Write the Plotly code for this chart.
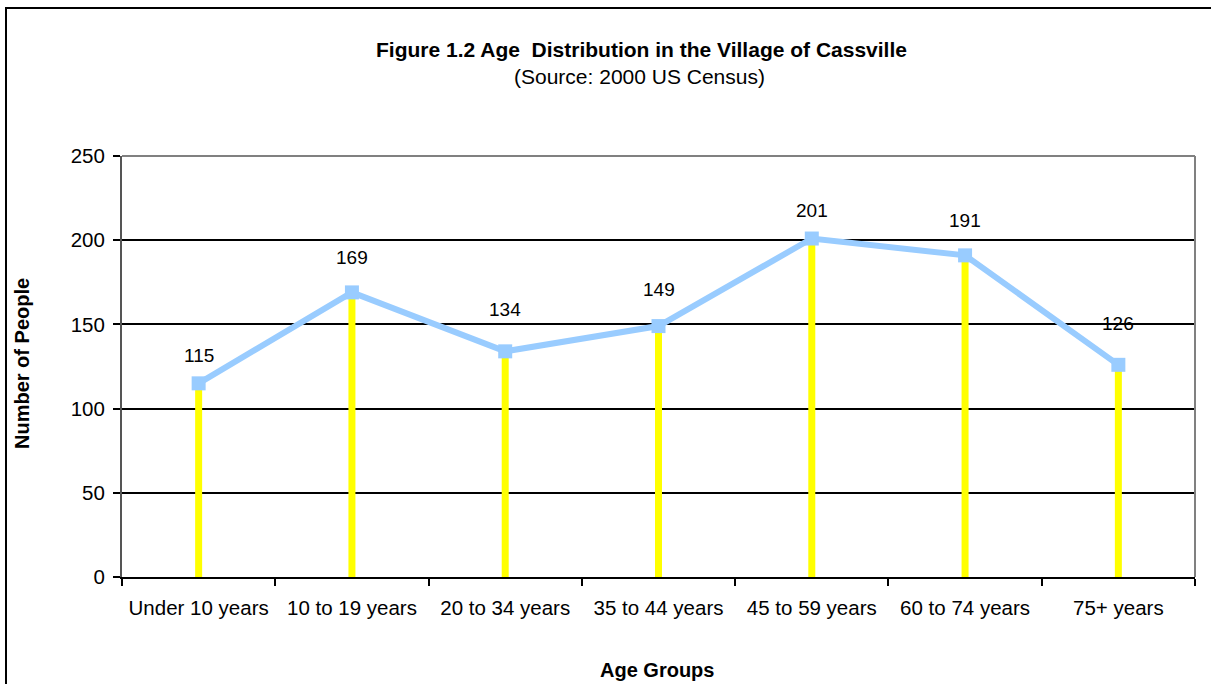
import plotly.graph_objects as go

# ---------- Data
age_groups = ["Under 10 years", "10 to 19 years", "20 to 34 years", "35 to 44 years",
              "45 to 59 years", "60 to 74 years", "75+ years"]
people = [115, 169, 134, 149, 201, 191, 126]
y_ticks = [0, 50, 100, 150, 200, 250]

# label offsets above each point (px), as placed in the original
label_shift = [28, 35, 42, 37, 28, 35, 41]

FONT = "Arial, Liberation Sans, sans-serif"

# Plot area in pixels
W, H = 1211, 684
L, R, T, B = 122, 16, 156, 107
pw, ph = W - L - R, H - T - B


def px_x(x):
    return (x - L) / pw


def px_y(y):
    return (H - B - y) / ph


# ---------- Traces
drop_x, drop_y = [], []
for g, v in zip(age_groups, people):
    drop_x += [g, g, None]
    drop_y += [0, v, None]

drops = go.Scatter(
    x=drop_x, y=drop_y, mode="lines",
    line=dict(color="#FFFF00", width=7),
    hoverinfo="skip", showlegend=False, connectgaps=False
)

line = go.Scatter(
    x=age_groups, y=people, mode="lines+markers",
    line=dict(color="#99CCFF", width=6),
    marker=dict(symbol="square", size=14, color="#99CCFF"),
    showlegend=False, hoverinfo="x+y"
)

fig = go.Figure([drops, line])

# ---------- Data labels
annotations = []
for g, v, s in zip(age_groups, people, label_shift):
    annotations.append(dict(x=g, y=v, text=str(v), showarrow=False, yshift=s,
                            font=dict(family=FONT, size=19, color="black")))

# ---------- Titles
annotations += [
    dict(x=px_x(641), y=px_y(49), xref="paper", yref="paper", showarrow=False,
         text="<b>Figure 1.2 Age\u00a0 Distribution in the Village of Cassville</b>",
         font=dict(family=FONT, size=21, color="black"), xanchor="center", yanchor="middle"),
    dict(x=px_x(639), y=px_y(76), xref="paper", yref="paper", showarrow=False,
         text="(Source: 2000 US Census)",
         font=dict(family=FONT, size=21, color="black"), xanchor="center", yanchor="middle"),
    dict(x=px_x(22), y=px_y(364), xref="paper", yref="paper", showarrow=False,
         text="<b>Number of People</b>", textangle=-90,
         font=dict(family=FONT, size=20, color="black"), xanchor="center", yanchor="middle"),
    dict(x=px_x(657), y=px_y(670), xref="paper", yref="paper", showarrow=False,
         text="<b>Age Groups</b>",
         font=dict(family=FONT, size=20, color="black"), xanchor="center", yanchor="middle"),
]

# ---------- Borders
shapes = [
    # outer chart frame (runs off the right and bottom edges)
    dict(type="rect", xref="paper", yref="paper",
         x0=px_x(6), x1=px_x(1300), y0=px_y(760), y1=px_y(8),
         line=dict(color="black", width=2), layer="below"),
    # plot-area top and right borders
    dict(type="line", xref="paper", yref="paper", x0=0, x1=1, y0=1, y1=1,
         line=dict(color="#808080", width=2), layer="above"),
    dict(type="line", xref="paper", yref="paper", x0=1, x1=1, y0=0, y1=1,
         line=dict(color="#808080", width=2), layer="above"),
]

fig.update_layout(
    width=W, height=H,
    margin=dict(l=L, r=R, t=T, b=B, autoexpand=False),
    paper_bgcolor="white", plot_bgcolor="white",
    font=dict(family=FONT, size=20, color="black"),
    annotations=annotations, shapes=shapes,
    hovermode="closest",
    xaxis=dict(
        type="category", categoryorder="array", categoryarray=age_groups,
        range=[-0.5, len(age_groups) - 0.5],
        showline=True, linecolor="black", linewidth=2,
        ticks="outside", tickson="boundaries", ticklen=7, tickwidth=2, tickcolor="black",
        showgrid=False, zeroline=False,
        tickfont=dict(family=FONT, size=20.5, color="black"),
        ticklabelstandoff=11,
    ),
    yaxis=dict(
        range=[0, 250], tickvals=y_ticks,
        showline=True, linecolor="#555555", linewidth=2,
        ticks="outside", ticklen=7, tickwidth=2, tickcolor="black",
        showgrid=True, gridcolor="black", gridwidth=2, zeroline=False,
        tickfont=dict(family=FONT, size=20.5, color="black"),
        ticklabelstandoff=4,
    ),
)

fig.write_html("out.html", config={"displayModeBar": False},
               post_script="document.body.style.margin='0';"
                           "document.body.style.overflow='hidden';")
